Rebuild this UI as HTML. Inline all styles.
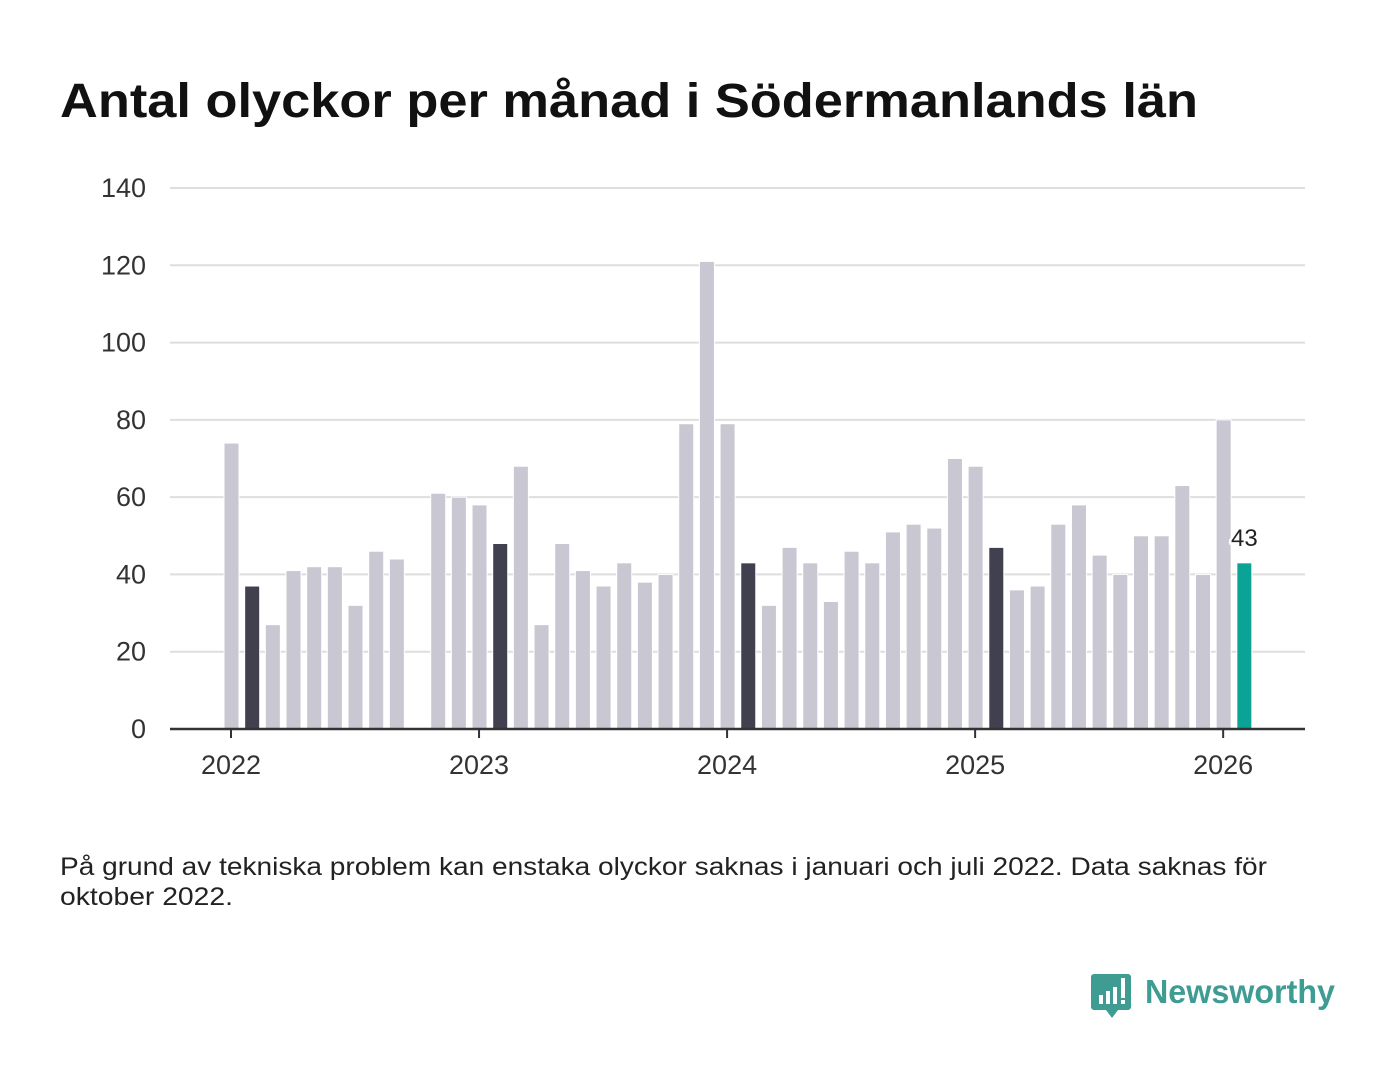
<!DOCTYPE html>
<html><head><meta charset="utf-8">
<style>
body{margin:0;background:#fff;width:1400px;height:1080px;overflow:hidden;font-family:"Liberation Sans","DejaVu Sans",sans-serif;}
svg text{font-family:"Liberation Sans","DejaVu Sans",sans-serif;}
</style></head>
<body>
<svg id="chart" width="1400" height="1080" xmlns="http://www.w3.org/2000/svg">
<text x="60" y="117" font-size="48" font-weight="bold" fill="#111" textLength="1138" lengthAdjust="spacingAndGlyphs">Antal olyckor per månad i Södermanlands län</text>
<g id="grid"></g>
<g id="bars"></g>
<g id="axes"></g>
<text x="60" y="875" font-size="25" fill="#222" textLength="1207" lengthAdjust="spacingAndGlyphs">På grund av tekniska problem kan enstaka olyckor saknas i januari och juli 2022. Data saknas för</text>
<text x="60" y="905" font-size="25" fill="#222" textLength="173" lengthAdjust="spacingAndGlyphs">oktober 2022.</text>
<g>
<path d="M1094 974 h34 a3 3 0 0 1 3 3 v30 a3 3 0 0 1 -3 3 h-10 l-6 8 l-6 -8 h-12 a3 3 0 0 1 -3 -3 v-30 a3 3 0 0 1 3 -3z" fill="#3f9c93"/>
<rect x="1099" y="995" width="4" height="9" fill="#fff"/>
<rect x="1106" y="991" width="4" height="13" fill="#fff"/>
<rect x="1113" y="987" width="4" height="17" fill="#fff"/>
<rect x="1121" y="978" width="4" height="20" fill="#fff"/>
<rect x="1121" y="1000" width="4" height="4" fill="#fff"/>
<text x="1145" y="1003" font-size="33" font-weight="bold" fill="#3f9c93" textLength="190" lengthAdjust="spacingAndGlyphs">Newsworthy</text>
</g>
</svg>
<script>
const months=["Dec21","Jan22","Feb22","Mar22","Apr22","May22","Jun22","Jul22","Aug22","Sep22","Oct22","Nov22","Dec22","Jan23","Feb23","Mar23","Apr23","May23","Jun23","Jul23","Aug23","Sep23","Oct23","Nov23","Dec23","Jan24","Feb24","Mar24","Apr24","May24","Jun24","Jul24","Aug24","Sep24","Oct24","Nov24","Dec24","Jan25","Feb25","Mar25","Apr25","May25","Jun25","Jul25","Aug25","Sep25","Oct25","Nov25","Dec25","Jan26"];
const values=[74,37,27,41,42,42,32,46,44,null,61,60,58,48,68,27,48,41,37,43,38,40,79,121,79,43,32,47,43,33,46,43,51,53,52,70,68,47,36,37,53,58,45,40,50,50,63,40,80,43];
const kinds=["n","d","n","n","n","n","n","n","n","n","n","n","n","d","n","n","n","n","n","n","n","n","n","n","n","d","n","n","n","n","n","n","n","n","n","n","n","d","n","n","n","n","n","n","n","n","n","n","n","t"];
const yTicks=[0,20,40,60,80,100,120,140];
const xTickLabels=["2022","2023","2024","2025","2026"];
const xTickIdx=[0,12,24,36,48];
const NS="http://www.w3.org/2000/svg";
const y0=729,pxPer=541/140,x0=231.5,step=20.67,bw=15;
const y=v=>y0-v*pxPer, x=i=>x0+i*step;
function mk(tag,attrs,parent){const e=document.createElementNS(NS,tag);for(const k in attrs)e.setAttribute(k,attrs[k]);document.getElementById(parent).appendChild(e);return e;}
yTicks.forEach(t=>{
 if(t>0){const l=mk('line',{x1:170,x2:1305,y1:y(t),y2:y(t),stroke:'#dedede','stroke-width':2},'grid');
 
 }
 const tx=mk('text',{x:146,y:y(t)+9,'font-size':27,fill:'#333','text-anchor':'end'},'axes');tx.textContent=t;
 
 
});
const col={n:'#c8c7d2',d:'#41404f',t:'#0aa396'};
values.forEach((v,i)=>{
 if(v==null)return;
 const r=mk('rect',{x:x(i)-bw/2,y:y(v),width:bw,height:y0-y(v),fill:col[kinds[i]],stroke:'#fff','stroke-width':1},'bars');
 
 
});
const li=values.length-1;
const lab=mk('text',{x:x(li),y:y(values[li])-17,'font-size':24,fill:'#222','text-anchor':'middle',stroke:'#fff','stroke-width':5,'paint-order':'stroke'},'bars');
lab.textContent=values[li];


const ax=mk('line',{x1:170,x2:1305,y1:y0,y2:y0,stroke:'#333','stroke-width':2.5},'axes');


xTickLabels.forEach((s,j)=>{
 const xx=x(xTickIdx[j])-0.5;
 const tk=mk('line',{x1:xx,x2:xx,y1:y0,y2:y0+9,stroke:'#333','stroke-width':2},'axes');
 
 
 const t=mk('text',{x:xx,y:774,'font-size':27,fill:'#333','text-anchor':'middle'},'axes');t.textContent=s;
 
 
});
</script>
</body></html>
